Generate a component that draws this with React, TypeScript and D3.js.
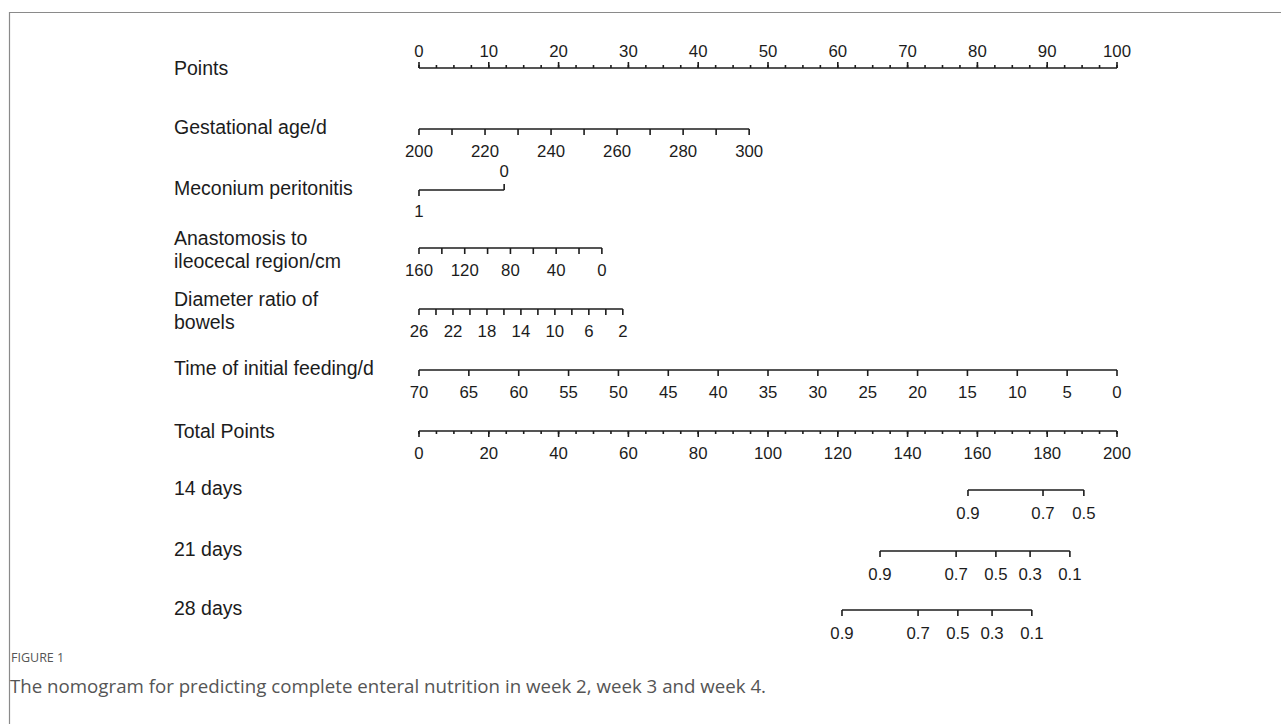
import * as d3 from 'd3';
import React, { useEffect, useRef } from 'react';

// Points scale (top axis)
const POINT_TICKS = d3.range(0, 101, 10);
const POINT_MINOR = d3.range(0, 100.01, 2.5);

// Predictor axes: tick values, labelled values, and their point span
const GEST_TICKS = d3.range(200, 301, 10);
const GEST_LABELS = [200, 220, 240, 260, 280, 300];
const GEST_POINTS = [0, 47.3];

const MEC_TICKS = [1, 0];
const MEC_POINTS = [0, 12.2];

const ANAST_TICKS = d3.range(160, -1, -20);
const ANAST_LABELS = [160, 120, 80, 40, 0];
const ANAST_POINTS = [0, 26.2];

const DIAM_TICKS = d3.range(26, 1, -2);
const DIAM_LABELS = [26, 22, 18, 14, 10, 6, 2];
const DIAM_POINTS = [0, 29.2];

const FEED_TICKS = d3.range(70, -1, -5);
const FEED_POINTS = [0, 100];

// Total points
const TOTAL_TICKS = d3.range(0, 201, 20);
const TOTAL_MINOR = d3.range(0, 200.01, 5);

// Probability axes (probability -> total points)
const D14_PROBS = [0.9, 0.7, 0.5];
const D14_TOTAL = [157.3, 178.8, 190.5];
const D21_PROBS = [0.9, 0.7, 0.5, 0.3, 0.1];
const D21_TOTAL = [132.1, 153.9, 165.3, 175.1, 186.5];
const D28_PROBS = [0.9, 0.7, 0.5, 0.3, 0.1];
const D28_TOTAL = [121.2, 143.0, 154.4, 164.2, 175.6];

const ROW_LABELS = [
  ["Points"],
  ["Gestational age/d"],
  ["Meconium peritonitis"],
  ["Anastomosis to", "ileocecal region/cm"],
  ["Diameter ratio of", "bowels"],
  ["Time of initial feeding/d"],
  ["Total Points"],
  ["14 days"],
  ["21 days"],
  ["28 days"],
];

const CAPTION_TITLE = "FIGURE 1";
const CAPTION_TEXT = "The nomogram for predicting complete enteral nutrition in week 2, week 3 and week 4.";

const WIDTH = 1281;
const HEIGHT = 724;
const ROW_Y = [68, 129, 190, 248, 309, 370, 431, 490, 551, 610];
const INK = "#1c1c1c";

const App: React.FC = () => {
  const svgRef = useRef<SVGSVGElement>(null);

  useEffect(() => {
    if (!svgRef.current) { return; }
    const svg = d3.select(svgRef.current);
    svg.selectAll("*").remove();

    const xPts = d3.scaleLinear().domain([0, 100]).range([419, 1117]);
    const xTot = d3.scaleLinear().domain([0, 200]).range([419, 1117]);

    // frame
    svg.append("path")
      .attr("d", `M9.5,${HEIGHT} V12.5 H${WIDTH}`)
      .attr("fill", "none")
      .attr("stroke", "#8a8a8a")
      .attr("stroke-width", 1.2);

    const chart = svg.append("g").style("font-family", "'Liberation Sans', Arial, sans-serif");

    // row labels
    ROW_LABELS.forEach((lines, i) => {
      const shift = i === 0 || i === 6 ? 7 : 5;
      const base = lines.length === 1 ? ROW_Y[i] + shift : ROW_Y[i] - 3;
      lines.forEach((ln, j) => {
        chart.append("text")
          .attr("x", 174)
          .attr("y", base + j * 23)
          .style("font-size", "19.5px")
          .style("fill", INK)
          .text(ln);
      });
    });

    const drawLine = (y: number, x0: number, x1: number) => {
      chart.append("line")
        .attr("x1", x0).attr("x2", x1)
        .attr("y1", y).attr("y2", y)
        .attr("stroke", INK)
        .attr("stroke-width", 1.6);
    };
    const drawTicks = (y: number, xs: number[], len: number) => {
      chart.selectAll(null)
        .data(xs)
        .enter().append("line")
        .attr("x1", d => d).attr("x2", d => d)
        .attr("y1", y).attr("y2", y + len)
        .attr("stroke", INK)
        .attr("stroke-width", 1.6);
    };
    const drawLabels = (y: number, items: { x: number; t: string }[]) => {
      chart.selectAll(null)
        .data(items)
        .enter().append("text")
        .attr("x", d => d.x)
        .attr("y", y)
        .attr("text-anchor", "middle")
        .style("font-size", "16.8px")
        .style("fill", INK)
        .text(d => d.t);
    };

    // Points axis
    const yP = ROW_Y[0];
    drawLine(yP, xPts(0), xPts(100));
    drawTicks(yP, POINT_MINOR.map(v => xPts(v)), -3);
    drawTicks(yP, POINT_TICKS.map(v => xPts(v)), -6);
    drawLabels(yP - 11, POINT_TICKS.map(v => ({ x: xPts(v), t: `${v}` })));

    // generic predictor axis
    const predictor = (row: number, ticks: number[], labels: number[], pts: number[]) => {
      const y = ROW_Y[row];
      const toPts = d3.scaleLinear().domain([ticks[0], ticks[ticks.length - 1]]).range(pts);
      const px = (v: number) => xPts(toPts(v));
      drawLine(y, px(ticks[0]), px(ticks[ticks.length - 1]));
      drawTicks(y, ticks.map(px), 6);
      drawLabels(y + 28, labels.map(v => ({ x: px(v), t: `${v}` })));
    };

    predictor(1, GEST_TICKS, GEST_LABELS, GEST_POINTS);

    // Meconium peritonitis: labels alternate above / below
    {
      const y = ROW_Y[2];
      const toPts = d3.scaleLinear().domain([MEC_TICKS[0], MEC_TICKS[1]]).range(MEC_POINTS);
      const px = (v: number) => xPts(toPts(v));
      drawLine(y, px(1), px(0));
      drawTicks(y, [px(1)], 6);
      drawTicks(y, [px(0)], -6);
      drawLabels(y + 27, [{ x: px(1), t: "1" }]);
      drawLabels(y - 13, [{ x: px(0), t: "0" }]);
    }

    predictor(3, ANAST_TICKS, ANAST_LABELS, ANAST_POINTS);
    predictor(4, DIAM_TICKS, DIAM_LABELS, DIAM_POINTS);
    predictor(5, FEED_TICKS, FEED_TICKS, FEED_POINTS);

    // Total points
    const yT = ROW_Y[6];
    drawLine(yT, xTot(0), xTot(200));
    drawTicks(yT, TOTAL_MINOR.map(v => xTot(v)), 3);
    drawTicks(yT, TOTAL_TICKS.map(v => xTot(v)), 6);
    drawLabels(yT + 28, TOTAL_TICKS.map(v => ({ x: xTot(v), t: `${v}` })));

    // probability axes
    const probAxis = (row: number, probs: number[], totals: number[]) => {
      const y = ROW_Y[row];
      const xs = totals.map(v => xTot(v));
      drawLine(y, d3.min(xs)!, d3.max(xs)!);
      drawTicks(y, xs, 6);
      drawLabels(y + 29, probs.map((p, k) => ({ x: xs[k], t: p.toFixed(1) })));
    };
    probAxis(7, D14_PROBS, D14_TOTAL);
    probAxis(8, D21_PROBS, D21_TOTAL);
    probAxis(9, D28_PROBS, D28_TOTAL);

    // caption
    const cap = svg.append("g").style("font-family", "'Open Sans', 'Noto Sans', sans-serif");
    cap.append("text")
      .attr("x", 11)
      .attr("y", 662)
      .style("font-size", "12.5px")
      .style("fill", "#555")
      .text(CAPTION_TITLE);
    cap.append("text")
      .attr("x", 10)
      .attr("y", 693)
      .style("font-size", "18.7px")
      .style("fill", "#555")
      .text(CAPTION_TEXT);
  }, []);

  return (
    <div style={{ position: "fixed", left: 0, top: 0, background: "#fff" }}>
      <svg ref={svgRef} width={WIDTH} height={HEIGHT} />
    </div>
  );
};

export default App;
